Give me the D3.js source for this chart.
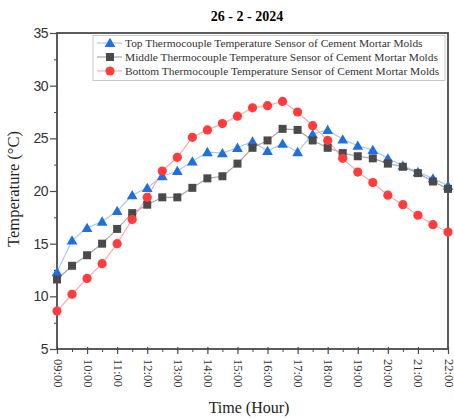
<!DOCTYPE html>
<html>
<head>
<meta charset="utf-8">
<script src="https://cdn.jsdelivr.net/npm/d3@7"></script>
<style>
  body { margin: 0; background: #fff; }
  svg { display: block; }
</style>
</head>
<body>
<svg width="454" height="419"></svg>
<script>
// half-hourly readings, 09:00 to 22:00
var hours = [9, 9.5, 10, 10.5, 11, 11.5, 12, 12.5, 13, 13.5, 14, 14.5, 15, 15.5,
             16, 16.5, 17, 17.5, 18, 18.5, 19, 19.5, 20, 20.5, 21, 21.5, 22];

var topSensor = [12.3, 15.3, 16.5, 17.1, 18.1, 19.6, 20.3, 21.4, 21.9, 22.8, 23.7, 23.6, 24.1, 24.7,
                 23.8, 24.5, 23.7, 25.4, 25.8, 24.9, 24.3, 23.9, 23.1, 22.4, 21.8, 21.2, 20.5];
var middleSensor = [11.6, 12.9, 13.9, 15.0, 16.4, 17.9, 18.7, 19.4, 19.4, 20.3, 21.2, 21.4, 22.6, 24.1,
                    24.8, 25.9, 25.8, 24.8, 24.1, 23.6, 23.3, 23.1, 22.6, 22.3, 21.7, 20.9, 20.2];
var bottomSensor = [8.6, 10.2, 11.7, 13.1, 15.0, 17.3, 19.4, 21.9, 23.2, 25.1, 25.8, 26.4, 27.1, 27.9,
                    28.1, 28.5, 27.5, 26.2, 24.8, 23.1, 21.8, 20.8, 19.6, 18.7, 17.7, 16.8, 16.1];

var xTicks = [9, 10, 11, 12, 13, 14, 15, 16, 17, 18, 19, 20, 21, 22];
var yTicks = [5, 10, 15, 20, 25, 30, 35];

var seriesNames = ["Top Thermocouple Temperature Sensor of Cement Mortar Molds",
                   "Middle Thermocouple Temperature Sensor of Cement Mortar Molds",
                   "Bottom Thermocouple Temperature Sensor of Cement Mortar Molds"];

var series = [
  { name: seriesNames[0], values: topSensor, marker: "tri", fill: "#1f6fe0", line: "#a9c8f3" },
  { name: seriesNames[1], values: middleSensor, marker: "sq", fill: "#4a4a4a", line: "#a6a6a6" },
  { name: seriesNames[2], values: bottomSensor, marker: "circ", fill: "#ff3b3b", line: "#ffabab" }
];

var svg = d3.select("svg");
var pLeft = 57, pRight = 448, pTop = 33, pBottom = 349;

var x = d3.scaleLinear().domain([9, 22]).range([pLeft, pRight]);
var y = d3.scaleLinear().domain([5, 35]).range([pBottom, pTop]);

var serif = "'Liberation Serif', 'Times New Roman', serif";
var sans = "'Liberation Sans', Arial, sans-serif";
var axisColor = "#4a4a4a";

function pad(h) { return (h < 10 ? "0" : "") + h + ":00"; }

// title
svg.append("text")
  .attr("x", 247).attr("y", 21)
  .attr("text-anchor", "middle")
  .attr("font-family", serif).attr("font-weight", "bold").attr("font-size", 14)
  .text("26 - 2 - 2024");

// y axis
var yAxis = svg.append("g")
  .attr("transform", "translate(" + pLeft + ",0)")
  .call(d3.axisLeft(y).tickValues(yTicks).tickSize(7).tickPadding(2).tickFormat(d3.format("d")));
yAxis.selectAll("text").attr("font-family", sans).attr("font-size", 14).attr("fill", "#333").attr("letter-spacing", -0.5);
yAxis.selectAll("line").attr("stroke", axisColor).attr("stroke-width", 1.2);
yAxis.select(".domain").remove();

svg.append("g")
  .attr("transform", "translate(" + pLeft + ",0)")
  .call(d3.axisLeft(y).tickValues(d3.range(7.5, 35, 5)).tickSize(3).tickFormat(""))
  .call(function (g) { g.select(".domain").remove(); g.selectAll("line").attr("stroke", axisColor); });

// x axis
var xAxis = svg.append("g")
  .attr("transform", "translate(0," + pBottom + ")")
  .call(d3.axisBottom(x).tickValues(xTicks).tickSize(5).tickFormat(pad));
xAxis.select(".domain").remove();
xAxis.selectAll("line").attr("y1", -2).attr("stroke", axisColor).attr("stroke-width", 1.2);
xAxis.selectAll("text")
  .attr("font-family", serif).attr("font-size", 12.5).attr("fill", "#333")
  .attr("text-anchor", "start")
  .attr("dy", null)
  .attr("dominant-baseline", "central")
  .attr("transform", "translate(0,10) rotate(90)")
  .attr("y", 0).attr("x", 0);

svg.append("g")
  .attr("transform", "translate(0," + pBottom + ")")
  .call(d3.axisBottom(x).tickValues(d3.range(9.5, 22, 1)).tickSize(3).tickFormat(""))
  .call(function (g) { g.select(".domain").remove(); g.selectAll("line").attr("stroke", axisColor); });

// frame
svg.append("rect")
  .attr("x", pLeft).attr("y", pTop)
  .attr("width", pRight - pLeft).attr("height", pBottom - pTop)
  .attr("fill", "none").attr("stroke", axisColor).attr("stroke-width", 1.8);

// axis titles
svg.append("text")
  .attr("x", 249).attr("y", 413)
  .attr("text-anchor", "middle")
  .attr("font-family", serif).attr("font-size", 16).attr("fill", "#222")
  .text("Time (Hour)");

svg.append("text")
  .attr("transform", "translate(19,189) rotate(-90)")
  .attr("text-anchor", "middle")
  .attr("font-family", serif).attr("font-size", 16.5).attr("fill", "#222")
  .text("Temperature (°C)");

function drawMarker(g, type, fill) {
  if (type === "tri") {
    g.append("path").attr("d", d3.symbol().type(d3.symbolTriangle).size(50)).attr("transform", "translate(0,1)").attr("fill", fill);
  } else if (type === "sq") {
    g.append("rect").attr("x", -4).attr("y", -4).attr("width", 8).attr("height", 8).attr("fill", fill);
  } else {
    g.append("circle").attr("r", 4.6).attr("fill", fill);
  }
}

var line = d3.line()
  .x(function (d, i) { return x(hours[i]); })
  .y(function (d) { return y(d); });

series.forEach(function (s) {
  svg.append("path")
    .datum(s.values)
    .attr("d", line)
    .attr("fill", "none")
    .attr("stroke", s.line)
    .attr("stroke-width", 1.2);
});

series.forEach(function (s) {
  svg.append("g").selectAll("g")
    .data(s.values)
    .enter().append("g")
    .attr("transform", function (d, i) { return "translate(" + x(hours[i]) + "," + y(d) + ")"; })
    .each(function () { drawMarker(d3.select(this), s.marker, s.fill); });
});

// legend
var legend = svg.append("g");
legend.append("rect")
  .attr("x", 93).attr("y", 35.5).attr("width", 352).attr("height", 45)
  .attr("fill", "#fff").attr("stroke", "#c8c8c8").attr("stroke-width", 1);

series.forEach(function (s, i) {
  var ly = 43 + i * 14;
  legend.append("line")
    .attr("x1", 97).attr("x2", 122).attr("y1", ly).attr("y2", ly)
    .attr("stroke", s.line).attr("stroke-width", 1.2);
  var m = legend.append("g").attr("transform", "translate(110," + ly + ")");
  drawMarker(m, s.marker, s.fill);
  legend.append("text")
    .attr("x", 125).attr("y", ly + 4)
    .attr("font-family", serif).attr("font-size", 11.4).attr("fill", "#333")
    .text(s.name);
});
</script>
</body>
</html>
